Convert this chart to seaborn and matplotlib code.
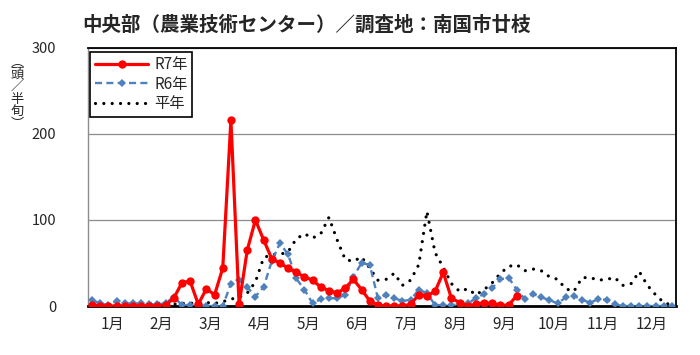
import numpy as np
import pandas as pd
import seaborn as sns
import matplotlib.pyplot as plt

# 半旬ごとの誘殺数（1年 = 72半旬）
months = ["1月", "2月", "3月", "4月", "5月", "6月", "7月", "8月", "9月", "10月", "11月", "12月"]

r7 = [1, 0, 0, 0, 0, 0, 0, 0, 0, 1, 9, 27, 29, 2, 20, 13, 44, 216,
      2, 65, 100, 77, 55, 50, 44, 39, 34, 30, 22, 18, 15, 21, 31, 19, 6, 1,
      0, 0, 0, 2, 13, 12, 17, 39, 9, 4, 0, 2, 4, 3, 1, 1, 12]

r6 = [7, 3, 1, 6, 3, 3, 3, 2, 2, 3, 11, 1, 1, 1, 0, 0, 0, 26,
      30, 22, 11, 22, 52, 73, 60, 32, 19, 3, 8, 9, 9, 13, 34, 50, 48, 9,
      13, 9, 6, 7, 19, 15, 1, 1, 1, 2, 3, 9, 14, 21, 31, 33, 19, 8,
      14, 10, 7, 3, 10, 12, 7, 4, 8, 7, 2, 0, 0, 0, 0, 0, 0, 0]

heinen = [4, 3, 2, 3, 3, 3, 3, 3, 3, 4, 2, 3, 3, 4, 4, 3, 5, 8,
          10, 15, 28, 56, 60, 60, 63, 78, 84, 79, 84, 103, 77, 54, 52, 57, 44, 30,
          31, 38, 24, 30, 48, 110, 62, 45, 26, 17, 20, 13, 19, 27, 38, 46, 48, 41,
          43, 41, 34, 31, 20, 17, 33, 33, 30, 31, 33, 24, 26, 40, 24, 13, 4, 1]

sns.set_theme(style="white")
plt.rcParams["font.family"] = ["Noto Sans CJK JP", "DejaVu Sans"]

fig = plt.figure(figsize=(7, 3.55), dpi=100)
ax = fig.add_axes([88 / 700, 1 - 306 / 355, 588 / 700, 258 / 355])

sns.lineplot(x=np.arange(len(heinen)), y=heinen, ax=ax, color="black",
             linewidth=2.3, linestyle=(0, (0.01, 2.6)), dash_capstyle="round",
             label="平年", zorder=2)
sns.lineplot(x=np.arange(len(r6)), y=r6, ax=ax, color="#4F81BD",
             linewidth=1.7, linestyle=(0, (3, 1.8)), marker="D", markersize=3.8,
             markeredgewidth=0, label="R6年", zorder=3)
sns.lineplot(x=np.arange(len(r7)), y=r7, ax=ax, color="#FF0000",
             linewidth=2.3, marker="o", markersize=6, markeredgewidth=0,
             label="R7年", zorder=4)

ax.set_xlim(-0.5, 71.5)
ax.set_ylim(0, 300)
ax.set_yticks([0, 100, 200, 300])
ax.yaxis.grid(True, color="#8c8c8c", linewidth=0.9)
ax.set_axisbelow(True)

ax.set_xticks(np.arange(6, 72, 6) - 0.5)
ax.set_xticklabels([])
ax.set_xticks(np.arange(12) * 6 + 2.5, minor=True)
ax.set_xticklabels(months, minor=True, fontsize=11)
ax.tick_params(axis="x", which="major", direction="in", length=4, width=1.2, color="black")
ax.tick_params(axis="x", which="minor", length=0, pad=7)
ax.tick_params(axis="y", length=0, pad=23, labelsize=10.5)
ax.set_xlabel("")
ax.set_ylabel("")

for side in ["top", "right"]:
    ax.spines[side].set_color("black")
    ax.spines[side].set_linewidth(1.3)
ax.spines["left"].set_color("#8c8c8c")
ax.spines["left"].set_linewidth(1)
ax.spines["bottom"].set_color("black")
ax.spines["bottom"].set_linewidth(2)

handles, labels = ax.get_legend_handles_labels()
order = [labels.index(n) for n in ["R7年", "R6年", "平年"]]
leg = ax.legend([handles[i] for i in order], [labels[i] for i in order],
                loc="upper left", bbox_to_anchor=(0.004, 0.985), fontsize=11,
                frameon=True, fancybox=False, edgecolor="black", framealpha=1,
                handlelength=3.5, handletextpad=0.4, borderpad=0.3,
                labelspacing=0.15, borderaxespad=0)
leg.get_frame().set_linewidth(1.2)

fig.text(82 / 700, 1 - 25 / 355, "中央部（農業技術センター）／調査地：南国市廿枝",
         fontsize=14, fontweight="bold", ha="left", va="center")
fig.text(17 / 700, 1 - 93 / 355, "︵\n頭\n／\n半\n旬\n︶", fontsize=9.5,
         ha="center", va="center", linespacing=0.95)

fig.savefig("out.png", dpi=100)
